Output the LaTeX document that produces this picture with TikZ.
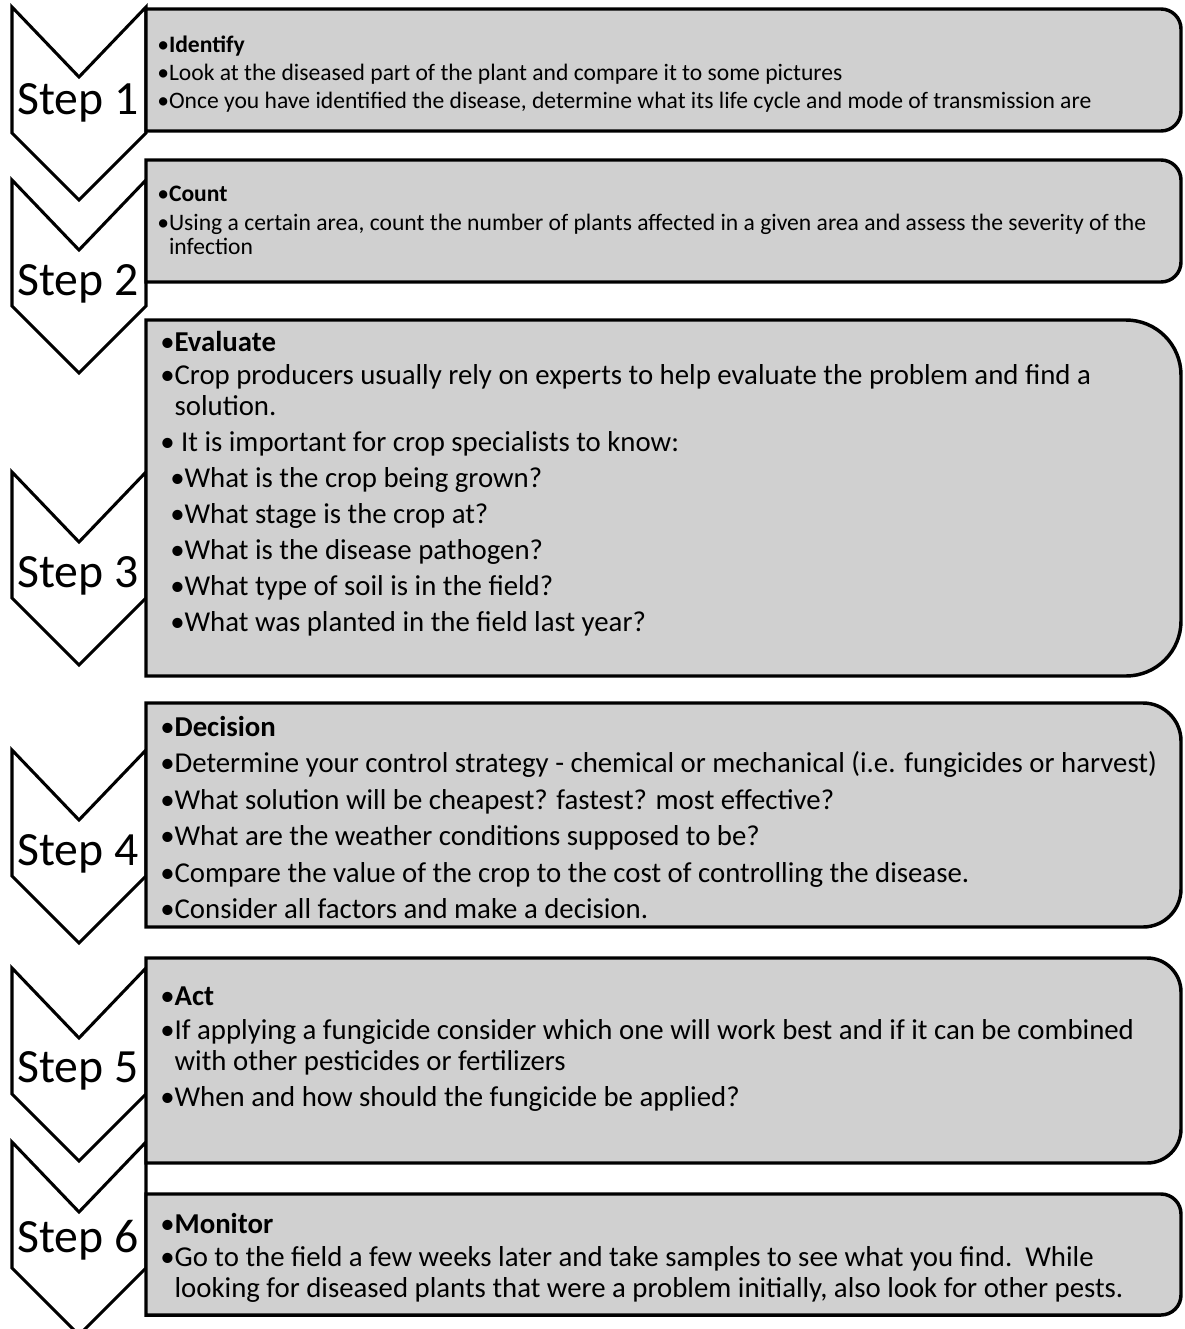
\documentclass[tikz,border=0pt]{standalone}
\usepackage{fontspec}
\setmainfont{Carlito}
\usepackage{xcolor}
\usepackage{tikz}
\usetikzlibrary{positioning}
\definecolor{panelgray}{RGB}{208,208,208}
\tikzset{
  chev/.style={draw=black, fill=white, line width=2.3pt, line join=miter},
  panel/.style={draw=black, fill=panelgray, line width=2.6pt},
  steplabel/.style={font=\fontsize{35.8}{40}\selectfont, inner sep=0pt, anchor=base},
  smalltext/.style={font=\fontsize{17.7}{18}\selectfont, align=left, inner sep=0pt, anchor=north west},
  largetext/.style={font=\fontsize{21.6}{23.25}\selectfont, align=left, inner sep=0pt, anchor=north west}
}

\begin{document}
\begin{tikzpicture}[x=0.75pt, y=-0.75pt]
		\useasboundingbox (0,0) rectangle (1185,1329);

		% chevrons
		\draw[chev] (12,7) -- (79,77) -- (146,7) -- (146,133) -- (79,200) -- (12,133) -- cycle;
		\draw[chev] (12,180) -- (79,250) -- (146,180) -- (146,306) -- (79,373) -- (12,306) -- cycle;
		\draw[chev] (12,472) -- (79,542) -- (146,472) -- (146,598) -- (79,665) -- (12,598) -- cycle;
		\draw[chev] (12,750) -- (79,820) -- (146,750) -- (146,876) -- (79,943) -- (12,876) -- cycle;
		\draw[chev] (12,968) -- (79,1038) -- (146,968) -- (146,1094) -- (79,1161) -- (12,1094) -- cycle;
		\draw[chev] (12,1142) -- (79,1212) -- (146,1142) -- (146,1268) -- (79,1335) -- (12,1268) -- cycle;

		\node[steplabel] (step1) at (78,114) {Step 1};
		\node[steplabel] (step2) at (78,295) {Step 2};
		\node[steplabel] (step3) at (78,587) {Step 3};
		\node[steplabel] (step4) at (78,865) {Step 4};
		\node[steplabel] (step5) at (78,1082) {Step 5};
		\node[steplabel] (step6) at (78,1252) {Step 6};

		% panels
		\draw[panel] (146,9) -- (1161,9) arc[start angle=-90, end angle=0, radius=20] -- (1181,111) arc[start angle=0, end angle=90, radius=20] -- (146,131) -- cycle;
		\draw[panel] (146,160) -- (1161,160) arc[start angle=-90, end angle=0, radius=20] -- (1181,262) arc[start angle=0, end angle=90, radius=20] -- (146,282) -- cycle;
		\draw[panel] (146,320) -- (1126,320) arc[start angle=-90, end angle=0, radius=55] -- (1181,621) arc[start angle=0, end angle=90, radius=55] -- (146,676) -- cycle;
		\draw[panel] (146,703) -- (1143,703) arc[start angle=-90, end angle=0, radius=38] -- (1181,889) arc[start angle=0, end angle=90, radius=38] -- (146,927) -- cycle;
		\draw[panel] (146,958) -- (1147,958) arc[start angle=-90, end angle=0, radius=34] -- (1181,1129) arc[start angle=0, end angle=90, radius=34] -- (146,1163) -- cycle;
		\draw[panel] (146,1194) -- (1161,1194) arc[start angle=-90, end angle=0, radius=20] -- (1181,1295) arc[start angle=0, end angle=90, radius=20] -- (146,1315) -- cycle;

		% panel texts
		\node[smalltext] (identify) at (157,36) {%
			•\textbf{Identify}\\[3pt]
			•Look at the diseased part of the plant and compare it to some pictures\\[3pt]
			•Once you have identified the disease, determine what its life cycle and mode of transmission are};
		\node[smalltext] (count) at (157,186) {%
			•\textbf{Count}\\[3.75pt]
			•Using a certain area, count the number of plants affected in a given area and assess the severity of the\\
			\phantom{•}infection};
		\node[largetext] (evaluate) at (160,331) {%
			•\textbf{Evaluate}\\[1.5pt]
			•Crop producers usually rely on experts to help evaluate the problem and find a\\
			\phantom{•}solution.\\[3.75pt]
			• It is important for crop specialists to know:\\[3.75pt]
			\hspace*{7.5pt}•What is the crop being grown?\\[3.75pt]
			\hspace*{7.5pt}•What stage is the crop at?\\[3.75pt]
			\hspace*{7.5pt}•What is the disease pathogen?\\[3.75pt]
			\hspace*{7.5pt}•What type of soil is in the field?\\[3.75pt]
			\hspace*{7.5pt}•What was planted in the field last year?};
		\node[largetext] (decision) at (160,716) {%
			•\textbf{Decision}\\[4.1pt]
			•Determine your control strategy - chemical or mechanical (i.e. fungicides or harvest)\\[4.1pt]
			•What solution will be cheapest? fastest? most effective?\\[4.1pt]
			•What are the weather conditions supposed to be?\\[4.1pt]
			•Compare the value of the crop to the cost of controlling the disease.\\[4.1pt]
			•Consider all factors and make a decision.};
		\node[largetext] (act) at (160,987) {%
			•\textbf{Act}\\[2.25pt]
			•If applying a fungicide consider which one will work best and if it can be combined\\
			\phantom{•}with other pesticides or fertilizers\\[3.75pt]
			•When and how should the fungicide be applied?};
		\node[largetext] (monitor) at (160,1213) {%
			•\textbf{Monitor}\\[1.5pt]
			•Go to the field a few weeks later and take samples to see what you find.\ \ While\\
			\phantom{•}looking for diseased plants that were a problem initially, also look for other pests.};
	\end{tikzpicture}
\end{document}
